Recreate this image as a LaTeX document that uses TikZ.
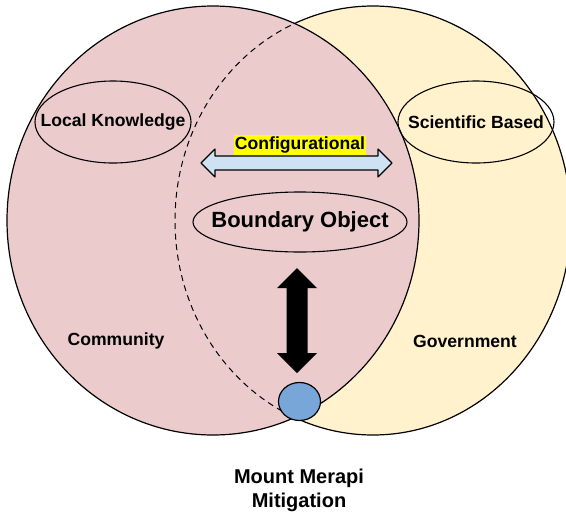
\documentclass[tikz,border=0pt]{standalone}
\usepackage{fontspec}
\setmainfont{Liberation Sans}
\usetikzlibrary{shapes.geometric}

\definecolor{commpink}{HTML}{EBCBCB}
\definecolor{govyellow}{HTML}{FFF2CD}
\definecolor{configblue}{HTML}{CFE2F3}
\definecolor{merapiblue}{HTML}{79A6D9}
\definecolor{hilite}{HTML}{FFFF00}

\tikzset{
	venntext/.style={font=\fontsize{17.6}{20}\selectfont\bfseries, inner sep=0pt},
	knowring/.style={draw, line width=1.1pt},
}

\begin{document}
\begin{tikzpicture}[x=1pt, y=-1pt, line join=round]
			%%%%% START %%%%%
			
			\fill[white] (0,0) rectangle (566,515);
			\useasboundingbox (0,0) rectangle (566,515);
			
			% government (back) and community (front)
			\draw[fill=govyellow, line width=1.2pt] (373,220.5) ellipse [x radius=198pt, y radius=214.5pt];
			\draw[fill=commpink, line width=1.2pt] (213,220.5) ellipse [x radius=206pt, y radius=214.5pt];
			\begin{scope}
				\clip (213,220.5) ellipse [x radius=206pt, y radius=214.5pt];
				\draw[line width=1pt, dash pattern=on 6pt off 4.5pt] (373,220.5) ellipse [x radius=198pt, y radius=214.5pt];
			\end{scope}
			
			% knowledge rings
			\draw[knowring] (113,122) ellipse [x radius=78pt, y radius=41pt];
			\node[venntext] (local) at (113,122) {Local Knowledge};
			\draw[knowring] (476,122) ellipse [x radius=78pt, y radius=41pt];
			\node[venntext] (science) at (476,122) {Scientific Based};
			\draw[knowring] (300,222) ellipse [x radius=107pt, y radius=30pt];
			\node[venntext, font=\fontsize{22}{26}\selectfont\bfseries] (boundary) at (300,222) {Boundary Object};
			
			\node[venntext, fill=hilite, inner xsep=1pt, inner ysep=1.5pt, text height=13pt, text depth=4pt] (config) at (300,145) {Configurational};
			\draw[fill=configblue, line width=1.1pt] (201,163) -- (215,149) -- (215,156) -- (378,156) -- (378,149) -- (392,163) -- (378,177) -- (378,170) -- (215,170) -- (215,177) -- cycle;
			
			% boundary object <-> volcano
			\fill (297,268) -- (317,288) -- (307.5,288) -- (307.5,353) -- (317,353) -- (297,373) -- (277,353) -- (286.5,353) -- (286.5,288) -- (277,288) -- cycle;
			\node[ellipse, draw, line width=1.2pt, fill=merapiblue, minimum width=42pt, minimum height=38pt, inner sep=0pt] (merapi) at (299.5,401.5) {};
			
			\node[venntext] (community) at (116,341) {Community};
			\node[venntext] (government) at (465,341) {Government};
			\node[venntext, font=\fontsize{20}{24}\selectfont\bfseries, align=center] (mitigation) at (299,490) {Mount Merapi\\Mitigation};
			
			%%%%% END %%%%%
\end{tikzpicture}
\end{document}
